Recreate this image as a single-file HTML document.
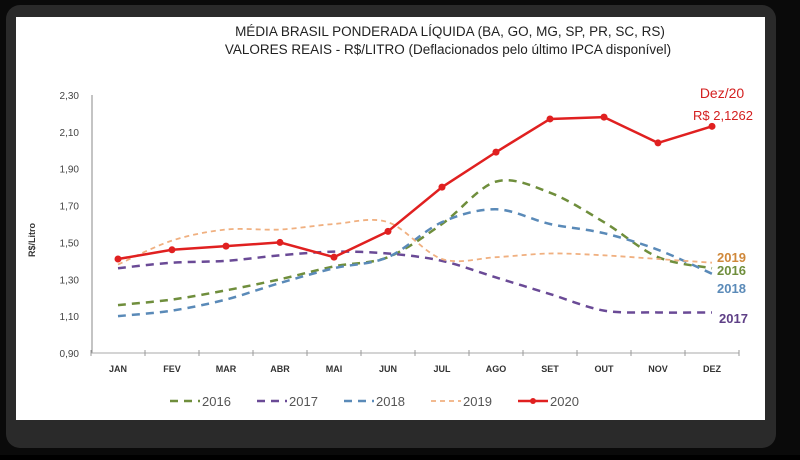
<!DOCTYPE html>
<html><head><meta charset="utf-8"><style>
body{margin:0;background:#000;width:800px;height:455px;overflow:hidden;font-family:"Liberation Sans",sans-serif}
</style></head><body>
<svg width="800" height="455">
<rect x="0" y="0" width="800" height="455" fill="#0a0a0a"/>
<rect x="6" y="5" width="770" height="443" rx="14" fill="#2a2a2a"/>
<rect x="16" y="17" width="749" height="403" fill="#fff"/>
<text x="450" y="36" text-anchor="middle" font-size="13.5" fill="#222">MÉDIA BRASIL PONDERADA LÍQUIDA (BA, GO, MG, SP, PR, SC, RS)</text>
<text x="448" y="54" text-anchor="middle" font-size="13.5" fill="#222">VALORES REAIS - R$/LITRO (Deflacionados pelo último IPCA disponível)</text>
<text transform="translate(35,240) rotate(-90)" text-anchor="middle" font-size="9" font-weight="bold" fill="#333">R$/Litro</text>
<g id="axes"></g>
<g id="series"></g>
<g id="legend"></g>
<text x="722" y="98" text-anchor="middle" font-size="14" fill="#d42020">Dez/20</text>
<text x="723" y="120" text-anchor="middle" font-size="13" fill="#d42020">R$ 2,1262</text>
<text x="717" y="262" font-size="13" font-weight="bold" fill="#d0883a">2019</text>
<text x="717" y="275" font-size="13" font-weight="bold" fill="#6f8e3c">2016</text>
<text x="717" y="293" font-size="13" font-weight="bold" fill="#5a8ab8">2018</text>
<text x="719" y="323" font-size="13" font-weight="bold" fill="#5e3f86">2017</text>
</svg>
<script>
const months=["JAN","FEV","MAR","ABR","MAI","JUN","JUL","AGO","SET","OUT","NOV","DEZ"];
const yTicks=[0.9,1.1,1.3,1.5,1.7,1.9,2.1,2.3];
const years=["2016","2017","2018","2019","2020"];
const v2016=[1.16,1.19,1.24,1.30,1.37,1.42,1.60,1.83,1.77,1.61,1.42,1.36];
const v2017=[1.36,1.39,1.40,1.43,1.45,1.44,1.40,1.31,1.22,1.13,1.12,1.12];
const v2018=[1.10,1.13,1.19,1.28,1.36,1.42,1.61,1.68,1.60,1.55,1.46,1.33];
const v2019=[1.38,1.51,1.57,1.57,1.60,1.61,1.41,1.42,1.44,1.43,1.41,1.39];
const v2020=[1.41,1.46,1.48,1.50,1.42,1.56,1.80,1.99,2.17,2.18,2.04,2.13];
const NS="http://www.w3.org/2000/svg";
const x0=91,step=54,yB=353,yT=95,vMin=0.9,vMax=2.3;
const X=i=>x0+step/2+step*i;
const Y=v=>yB-(v-vMin)/(vMax-vMin)*(yB-yT);
function mk(t,a,p){const e=document.createElementNS(NS,t);for(const k in a)e.setAttribute(k,a[k]);p.appendChild(e);return e;}
const ax=document.getElementById('axes');
let yl=mk('line',{x1:x0+1,y1:yT,x2:x0+1,y2:yB,stroke:'#888'},ax);


let xl=mk('line',{x1:x0,y1:yB,x2:x0+step*12,y2:yB,stroke:'#aaa'},ax);


yTicks.forEach(t=>{const e=mk('text',{x:x0-12,y:Y(t)+4,'text-anchor':'end','font-size':10,fill:'#444'},ax);e.textContent=t.toFixed(2).replace('.',',');

});
for(let i=0;i<=12;i++){const e=mk('line',{x1:x0+step*i,y1:yB-3,x2:x0+step*i,y2:yB+3,stroke:'#999'},ax);

}
months.forEach((m,i)=>{const e=mk('text',{x:X(i),y:yB+19,'text-anchor':'middle','font-size':9,'font-weight':'bold',fill:'#333'},ax);e.textContent=m;

});
function smooth(vals){const p=vals.map((v,i)=>[X(i),Y(v)]);let d=`M${p[0][0]},${p[0][1]}`;
for(let i=0;i<p.length-1;i++){const a=p[i-1]||p[i],b=p[i],c=p[i+1],e=p[i+2]||c;const t=0.16;
d+=` C${b[0]+(c[0]-a[0])*t},${b[1]+(c[1]-a[1])*t} ${c[0]-(e[0]-b[0])*t},${c[1]-(e[1]-b[1])*t} ${c[0]},${c[1]}`;}return d;}
const cfg=[[v2016,'#6f8e3c','8,6',2.5],[v2017,'#6a4a96','8,6',2.5],[v2018,'#5a8ab8','8,6',2.5],[v2019,'#f0b080','5,4',1.8],[v2020,'#e02020','',2.5]];
const sg=document.getElementById('series');
cfg.forEach((c,k)=>{const p=mk('path',{d:k==4?'M'+c[0].map((v,i)=>X(i)+','+Y(v)).join(' L'):smooth(c[0]),fill:'none',stroke:c[1],'stroke-width':c[3],'stroke-dasharray':c[2]},sg);


if(k==4)c[0].forEach((v,i)=>{const d=mk('circle',{cx:X(i),cy:Y(v),r:3.5,fill:c[1]},sg);

});});
const lg=document.getElementById('legend');
const lx=[200,287,374,461,548];
years.forEach((y,k)=>{const c=cfg[k];const yy=401;
const l=mk('line',{x1:lx[k]-30,y1:yy,x2:lx[k],y2:yy,stroke:c[1],'stroke-width':c[3],'stroke-dasharray':c[2]},lg);


if(k==4){const d=mk('circle',{cx:lx[k]-15,cy:yy,r:3,fill:c[1]},lg);
}
const t=mk('text',{x:lx[k]+2,y:yy+5,'font-size':13,fill:'#555'},lg);t.textContent=y;

});
</script>
</body></html>
